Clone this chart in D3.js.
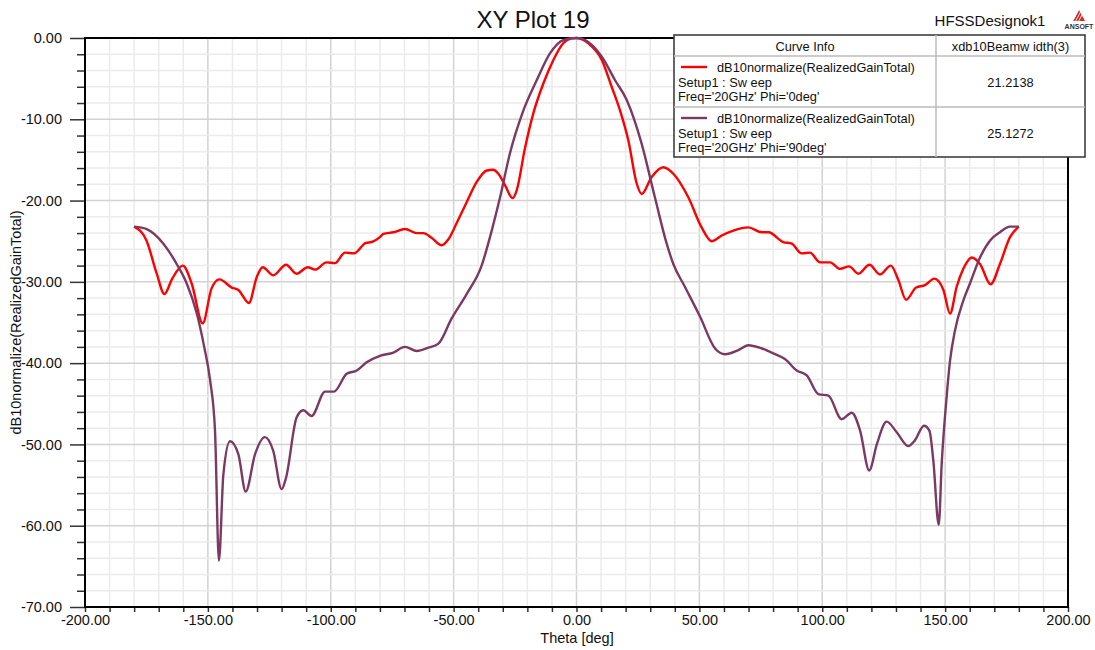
<!DOCTYPE html>
<html>
<head>
<meta charset="utf-8">
<script src="https://cdn.jsdelivr.net/npm/d3@7"></script>
<style>
  body { margin: 0; background: #fff; }
  svg { display: block; font-family: "Liberation Sans", Arial, sans-serif; }
</style>
</head>
<body>
<div id="chart"></div>
<script>
// Phi = 0deg curve (red)
var phi0Theta = [-180, -175, -170.8, -167.7, -164.5, -160.2, -156.6, -152.1, -148.5, -145.3, -140.3, -137.6,
  -133.3, -130.1, -127.7, -123.4, -118.2, -113.9, -109.4, -106.4, -101.7, -98.3, -94.2, -90.5, -85.7, -83.3,
  -80, -78.6, -74.5, -69.8, -65, -62.3, -58.9, -54.9, -52.2, -48.8, -44.7, -40.6, -36.5, -33.9, -31.8, -29.1,
  -26, -24.3, -21, -17.6, -13.5, -9.4, -5.4, -2, 0, 4.8, 10.3, 14.3, 17.7, 21.1, 24.5, 26.5, 30.6, 35.3, 39.4,
  45.5, 50.9, 55, 59.1, 63.8, 69.9, 75.4, 78.1, 84.1, 87.6, 91.6, 95, 99.1, 103.2, 107.2, 110.9, 114.7, 119.2,
  123.5, 127.9, 131, 134.1, 138.2, 141.8, 145.6, 149.3, 152, 154.7, 157.4, 160.8, 164.2, 168.5, 172.3, 176.4, 180];
var phi0Gain = [-23.2, -24.9, -29.0, -31.5, -29.6, -28.0, -30.2, -35.1, -30.8, -29.7, -30.7, -31.0,
  -32.6, -29.4, -28.2, -29.2, -27.9, -29.0, -28.2, -28.5, -27.6, -27.7, -26.4, -26.5, -25.2, -25.1,
  -24.5, -24.1, -23.9, -23.5, -24.0, -24.0, -24.6, -25.5, -24.8, -22.8, -20.2, -17.7, -16.3, -16.2, -16.7, -18.1,
  -19.7, -18.7, -13.6, -9.3, -5.6, -2.7, -0.65, -0.05, 0, -0.65, -2.7, -6.0, -8.9, -12.6, -17.9, -19.2, -17.1, -15.9, -16.7,
  -19.6, -23.3, -25.0, -24.3, -23.7, -23.3, -23.9, -23.9, -25.1, -25.3, -26.5, -26.4, -27.6, -27.6, -28.4, -28.1, -29.0, -27.9,
  -29.1, -28.0, -29.8, -32.2, -30.7, -30.4, -29.6, -31.0, -33.9, -30.6, -28.4, -27.0, -27.8, -30.3, -27.8, -24.5, -23.2];

// Phi = 90deg curve (purple)
var phi90Theta = [-180, -174.9, -168.1, -162.7, -158.6, -154.5, -151.5, -149.1, -147.1, -145.5, -143.7, -141,
  -137.6, -134.6, -130.8, -126.8, -123.4, -120, -118.2, -113.9, -111.2, -107.8, -102.3, -98.7, -93.5, -89.4,
  -85.4, -80, -74.5, -69.8, -65, -60.3, -56.2, -50.8, -44.7, -38.6, -34.5, -31.1, -27.1, -21.6, -16.2, -10.8,
  -5.4, 0, 3.5, 10.3, 15.7, 20.4, 26.5, 31.9, 36.7, 39.4, 44.1, 50.3, 56.4, 60.4, 65.8, 69.9, 75.4, 80.8, 84.8,
  89.6, 93.7, 98.4, 102.5, 107.9, 112, 115.4, 119.1, 122.2, 126.2, 130.3, 135, 137.7, 141.4, 143.6, 145.2, 147.4,
  148.6, 150.6, 152, 154, 157.4, 160.1, 164.2, 168.3, 172.3, 176.4, 180];
var phi90Gain = [-23.2, -23.5, -25.3, -27.8, -30.2, -33.9, -38.0, -42.1, -48.3, -64.3, -53.7, -49.6,
  -51.2, -55.8, -51.2, -49.1, -50.8, -55.5, -54.1, -46.7, -45.8, -46.5, -43.5, -43.5, -41.3, -40.9,
  -39.9, -39.1, -38.7, -38.0, -38.5, -38.1, -37.6, -34.5, -31.5, -28.0, -23.7, -19.6, -14.2, -8.9, -5.2, -1.9,
  -0.25, 0, -0.25, -2.3, -5.2, -7.6, -13.0, -19.6, -25.3, -27.8, -30.6, -34.3, -38.2, -38.9, -38.4, -37.8, -38.2, -38.9, -39.5,
  -40.9, -41.5, -43.8, -44.0, -46.9, -46.1, -48.3, -53.2, -50.0, -47.2, -48.5, -50.2, -49.5, -47.7, -48.3, -52.0, -59.9,
  -52.4, -44.2, -39.7, -36.0, -32.3, -30.2, -27.0, -24.9, -23.9, -23.2, -23.2];

var xTicks = [-200, -150, -100, -50, 0, 50, 100, 150, 200];
var yTicks = [0, -10, -20, -30, -40, -50, -60, -70];
var curveNames = ["dB10normalize(RealizedGainTotal)", "dB10normalize(RealizedGainTotal)"];
var curveSetups = ["Setup1 : Sw eep", "Setup1 : Sw eep"];
var curveFreqs = ["Freq='20GHz' Phi='0deg'", "Freq='20GHz' Phi='90deg'"];
var beamwidths = ["21.2138", "25.1272"];
var curveColors = ["#ff0000", "#7b3a62"];

var W = 1095, H = 650;
var plotLeft = 85, plotRight = 1068, plotTop = 38, plotBottom = 607;

function fmt(d) { return d.toFixed(2); }

var svg = d3.select('#chart').append('svg')
    .attr('width', W)
    .attr('height', H);

var x = d3.scaleLinear().domain([-200, 200]).range([plotLeft, plotRight]);
var y = d3.scaleLinear().domain([-70, 0]).range([plotBottom, plotTop]);

// grid, minor every 10 deg / 2 dB, major on labelled ticks
var minorX = d3.range(-200, 201, 10);
var minorY = d3.range(-70, 1, 2);
svg.append('g').selectAll('line').data(minorX).enter().append('line')
    .attr('x1', function(d) { return x(d); })
    .attr('x2', function(d) { return x(d); })
    .attr('y1', plotTop).attr('y2', plotBottom)
    .attr('stroke', function(d) { return xTicks.indexOf(d) >= 0 ? '#d2d2d2' : '#ebebeb'; })
    .attr('stroke-width', 1.5);
svg.append('g').selectAll('line').data(minorY).enter().append('line')
    .attr('x1', plotLeft).attr('x2', plotRight)
    .attr('y1', function(d) { return y(d); })
    .attr('y2', function(d) { return y(d); })
    .attr('stroke', function(d) { return yTicks.indexOf(d) >= 0 ? '#d2d2d2' : '#ebebeb'; })
    .attr('stroke-width', 1.5);

// axes
var yAxis = d3.axisLeft(y).tickValues(yTicks).tickSize(15).tickPadding(8).tickFormat(fmt);
svg.append('g').attr('transform', 'translate(' + plotLeft + ',0)').call(yAxis);
var yMinorAxis = d3.axisLeft(y).tickValues(minorY.filter(function(d) { return yTicks.indexOf(d) < 0; }))
    .tickSize(8).tickFormat('');
svg.append('g').attr('transform', 'translate(' + plotLeft + ',0)').call(yMinorAxis);

var xAxis = d3.axisBottom(x).tickValues(minorX).tickSize(5).tickPadding(3)
    .tickFormat(function(d) { return xTicks.indexOf(d) >= 0 ? fmt(d) : ''; });
svg.append('g').attr('transform', 'translate(0,' + plotBottom + ')').call(xAxis);

svg.selectAll('.domain').remove();
svg.selectAll('.tick line').attr('stroke', '#333').attr('stroke-width', 1.5);
svg.selectAll('.tick text').attr('fill', '#111').style('font-size', '14.5px')
    .style('font-family', '"Liberation Sans", Arial, sans-serif');

// frame
svg.append('rect')
    .attr('x', plotLeft).attr('y', plotTop)
    .attr('width', plotRight - plotLeft).attr('height', plotBottom - plotTop)
    .attr('fill', 'none').attr('stroke', '#000').attr('stroke-width', 2);

// curves
var line = d3.line()
    .x(function(d) { return x(d[0]); })
    .y(function(d) { return y(d[1]); })
    .curve(d3.curveMonotoneX);

var series = [d3.zip(phi0Theta, phi0Gain), d3.zip(phi90Theta, phi90Gain)];
svg.append('g').selectAll('path').data(series).enter().append('path')
    .attr('d', line)
    .attr('fill', 'none')
    .attr('stroke', function(d, i) { return curveColors[i]; })
    .attr('stroke-width', 2.4)
    .attr('stroke-linejoin', 'round');

// titles
svg.append('text').attr('x', 533).attr('y', 28)
    .attr('text-anchor', 'middle').style('font-size', '24px').attr('fill', '#111')
    .text('XY Plot 19');
svg.append('text').attr('x', 990).attr('y', 26)
    .attr('text-anchor', 'middle').style('font-size', '15px').attr('fill', '#111')
    .text('HFSSDesignok1');
svg.append('text').attr('x', 577).attr('y', 643)
    .attr('text-anchor', 'middle').style('font-size', '14.5px').attr('fill', '#111')
    .text('Theta [deg]');
svg.append('text')
    .attr('transform', 'translate(21,' + ((plotTop + plotBottom) / 2) + ') rotate(-90)')
    .attr('text-anchor', 'middle').style('font-size', '14.5px').attr('fill', '#111')
    .text('dB10normalize(RealizedGainTotal)');

// ansoft logo: striped red triangle
var logo = svg.append('g').attr('transform', 'translate(1079,9)');
logo.append('polygon').attr('points', '-6,12 0,1 6,12').attr('fill', '#d42a2a');
[-2.5, 0.5, 3.5].forEach(function(o) {
  logo.append('line')
      .attr('x1', o - 4).attr('y1', 12.5).attr('x2', o + 2).attr('y2', 1)
      .attr('stroke', '#fff').attr('stroke-width', 0.9);
});
logo.append('text').attr('x', 0).attr('y', 20).attr('text-anchor', 'middle')
    .style('font-size', '7px').style('font-weight', 'bold').attr('fill', '#333').text('ANSOFT');

// legend table
var lg = svg.append('g');
var lx0 = 674, lx1 = 936, lx2 = 1085, ly0 = 35, ly1 = 56, ly2 = 107, ly3 = 157;
lg.append('rect').attr('x', lx0).attr('y', ly0).attr('width', lx2 - lx0).attr('height', ly3 - ly0)
    .attr('fill', '#fff').attr('stroke', '#333').attr('stroke-width', 1.5);
[ly1, ly2].forEach(function(yy) {
  lg.append('line').attr('x1', lx0).attr('x2', lx2).attr('y1', yy).attr('y2', yy)
      .attr('stroke', '#bbb').attr('stroke-width', 1.5);
});
lg.append('line').attr('x1', lx1).attr('x2', lx1).attr('y1', ly0).attr('y2', ly3)
    .attr('stroke', '#bbb').attr('stroke-width', 1.5);
lg.append('text').attr('x', (lx0 + lx1) / 2).attr('y', ly0 + 16).attr('text-anchor', 'middle')
    .style('font-size', '12.8px').attr('fill', '#111').text('Curve Info');
lg.append('text').attr('x', (lx1 + lx2) / 2).attr('y', ly0 + 16).attr('text-anchor', 'middle')
    .style('font-size', '12.8px').attr('fill', '#111').text('xdb10Beamw idth(3)');

curveNames.forEach(function(name, i) {
  var r0 = ly1 + i * (ly2 - ly1);
  lg.append('line').attr('x1', 681).attr('x2', 707).attr('y1', r0 + 11).attr('y2', r0 + 11)
      .attr('stroke', curveColors[i]).attr('stroke-width', 2.4);
  lg.append('text').attr('x', 717).attr('y', r0 + 16).style('font-size', '12.8px').attr('fill', '#111').text(name);
  lg.append('text').attr('x', 678).attr('y', r0 + 31).style('font-size', '12.8px').attr('fill', '#111').text(curveSetups[i]);
  lg.append('text').attr('x', 678).attr('y', r0 + 45).style('font-size', '12.8px').attr('fill', '#111').text(curveFreqs[i]);
  lg.append('text').attr('x', (lx1 + lx2) / 2).attr('y', r0 + 31).attr('text-anchor', 'middle')
      .style('font-size', '12.8px').attr('fill', '#111').text(beamwidths[i]);
});
</script>
</body>
</html>
